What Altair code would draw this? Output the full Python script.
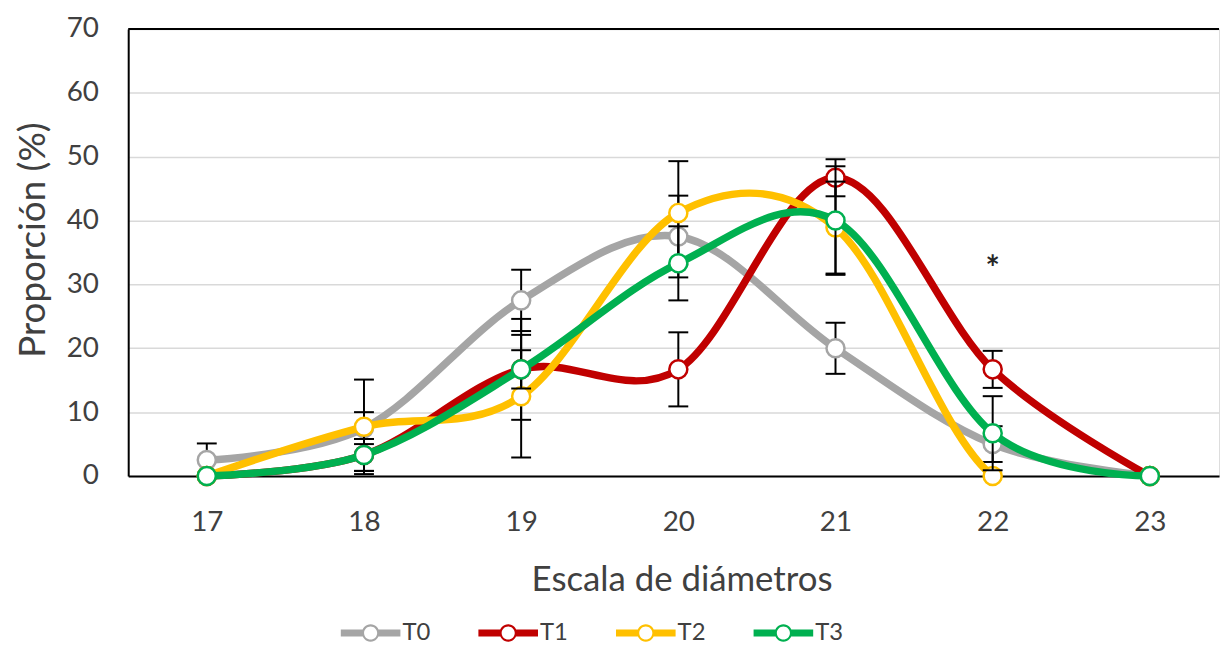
import altair as alt
import pandas as pd

# ---------------- data ----------------
diametros = [17, 18, 19, 20, 21, 22, 23]
series = ["T0", "T1", "T2", "T3"]
colores = ["#A5A5A5", "#C00000", "#FFC000", "#00B050"]

t0 = [2.5, 7.5, 27.5, 37.5, 20.0, 5.0, 0.0]
t1 = [0.0, 3.3, 16.7, 16.7, 46.7, 16.7, 0.0]
t2 = [0.0, 7.7, 12.5, 41.2, 38.9, 0.0, 0.0]
t3 = [0.0, 3.3, 16.7, 33.3, 40.0, 6.7, 0.0]

e0 = [2.6, 2.5, 4.8, 6.4, 4.0, 2.8, 0.0]
e1 = [0.0, 2.5, 7.9, 5.8, 2.9, 2.9, 0.0]
e2 = [0.0, 7.4, 9.6, 8.1, 7.2, 0.0, 0.0]
e3 = [0.0, 2.5, 3.0, 5.8, 8.5, 5.8, 0.0]

valores = {"T0": t0, "T1": t1, "T2": t2, "T3": t3}
errores = {"T0": e0, "T1": e1, "T2": e2, "T3": e3}

marca_x = [22]
marca_y = [32.3]
marca_txt = ["*"]

rows = []
for s in series:
    for d, v, e in zip(diametros, valores[s], errores[s]):
        rows.append({"serie": s, "diam": d, "prop": v,
                     "lo": max(v - e, 0.0), "hi": v + e, "err": e})
df = pd.DataFrame(rows)

FONT = "Lato"
TXT = "#404040"

xscale = alt.Scale(domain=[16.5, 23.44], nice=False, zero=False)
yscale = alt.Scale(domain=[0, 70], nice=False)

xaxis = alt.Axis(values=diametros, title="Escala de diámetros", grid=False,
                 ticks=False, domainColor="black", domainWidth=2,
                 labelFont=FONT, labelFontSize=28, labelColor=TXT, labelPadding=33,
                 titleFont=FONT, titleFontSize=35, titleFontWeight="normal",
                 titleColor=TXT, titlePadding=26, titleX=557, format="d")
yaxis = alt.Axis(values=list(range(0, 71, 10)), title="Proporción (%)", grid=True,
                 gridColor="#D9D9D9", gridWidth=1.5, ticks=False,
                 domainColor="black", domainWidth=2,
                 labelFont=FONT, labelFontSize=28, labelColor=TXT, labelPadding=30,
                 titleFont=FONT, titleFontSize=37, titleFontWeight="normal",
                 titleColor=TXT, titlePadding=14, titleY=212)


def X(field="diam"):
    return alt.X(f"{field}:Q", scale=xscale, axis=xaxis)


def Y(field):
    return alt.Y(f"{field}:Q", scale=yscale, axis=yaxis)


stroke_scale = alt.Scale(domain=series, range=colores)

PATH = ("M-1,-0.12H-0.26V0.12H-1Z "
        "M0.26,-0.12H1V0.12H0.26Z "
        "M0.29,0A0.29,0.29 0 1,1 -0.29,0A0.29,0.29 0 1,1 0.29,0Z "
        "M0.22,0A0.22,0.22 0 1,0 -0.22,0A0.22,0.22 0 1,0 0.22,0Z")

base = alt.Chart(df)

layers = []
# top frame line at 70
layers.append(
    alt.Chart(pd.DataFrame({"prop": [70]})).mark_rule(color="black", strokeWidth=2)
    .encode(y=Y("prop"))
)

# legend carrier (tiny points, hidden beneath lines/markers)
layers.append(
    base.mark_point(filled=True, opacity=1, size=1, shape="circle")
    .encode(x=X(), y=Y("prop"),
            fill=alt.Fill("serie:N", scale=alt.Scale(domain=series, range=colores),
                          legend=alt.Legend(title=None, orient="none", legendX=214,
                                            legendY=578, direction="horizontal",
                                            symbolType=PATH, symbolSize=3600,
                                            symbolStrokeWidth=0, symbolOpacity=1,
                                            labelFont=FONT, labelFontSize=24,
                                            labelColor=TXT, labelOffset=2,
                                            columnPadding=47.5)))
)

for s in series:
    sub = base.transform_filter(alt.datum.serie == s)
    layers.append(
        sub.mark_line(interpolate="cardinal", strokeWidth=7.5, strokeCap="round",
                      clip=(s == "T2"))
        .encode(x=X(), y=Y("prop"),
                stroke=alt.Stroke("serie:N", scale=stroke_scale, legend=None))
    )
    eb = sub.transform_filter(alt.datum.err > 0)
    layers.append(
        eb.mark_rule(color="black", strokeWidth=2)
        .encode(x=X(), y=Y("lo"), y2="hi:Q")
    )
    layers.append(
        eb.mark_tick(color="black", orient="horizontal", size=20, thickness=2, opacity=1)
        .encode(x=X(), y=Y("lo"))
    )
    layers.append(
        eb.mark_tick(color="black", orient="horizontal", size=20, thickness=2, opacity=1)
        .encode(x=X(), y=Y("hi"))
    )
    layers.append(
        sub.mark_circle(fill="white", size=330, strokeWidth=2.5, opacity=1)
        .encode(x=X(), y=Y("prop"),
                stroke=alt.Stroke("serie:N", scale=stroke_scale, legend=None))
    )

# asterisk
layers.append(
    alt.Chart(pd.DataFrame({"diam": marca_x, "prop": marca_y, "t": marca_txt}))
    .mark_text(font=FONT, fontSize=34, fontWeight="bold", color="#262626", baseline="middle")
    .encode(x=X(), y=Y("prop"), text="t:N")
)

chart = alt.layer(*layers).properties(
    width=1098, height=450,
    padding={"left": 121, "top": 19, "right": 2, "bottom": 169},
    autosize=alt.AutoSizeParams(type="none"),
).configure_view(stroke=None).configure(background="white")

chart.save("out.html", embed_options={"renderer": "svg", "actions": False})
